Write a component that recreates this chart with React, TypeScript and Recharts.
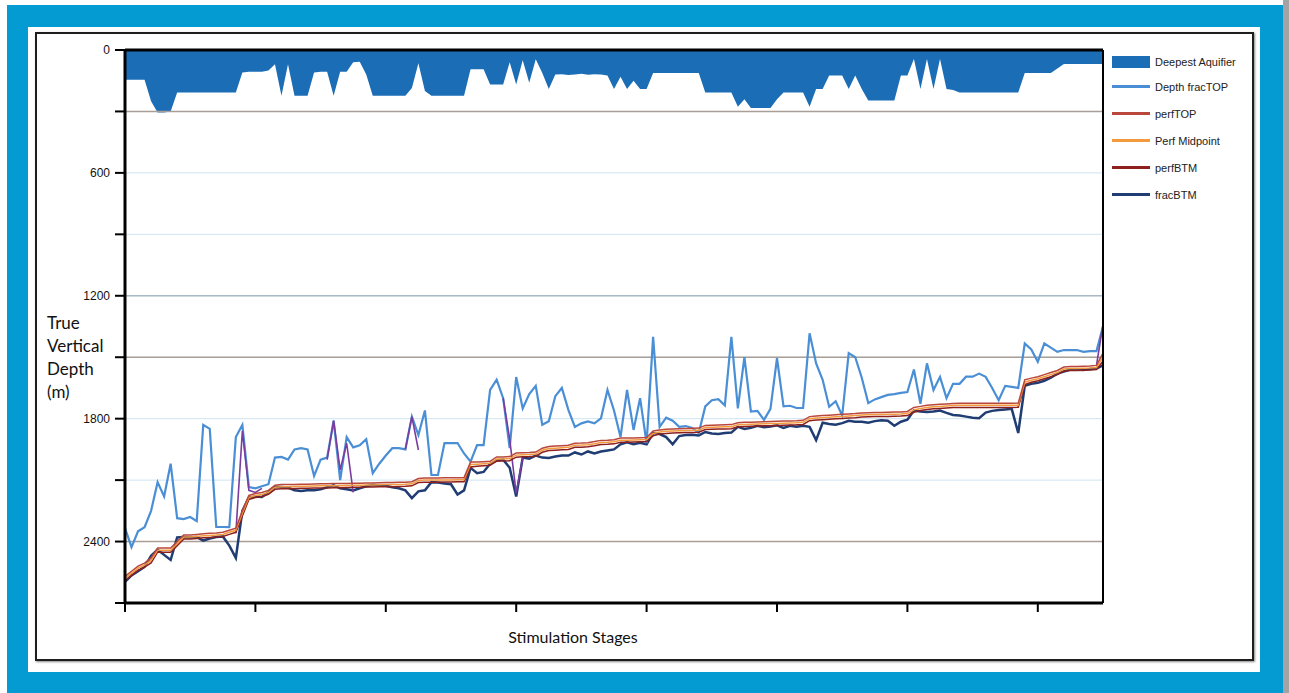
import React from "react";
import { ComposedChart, Area, Line, XAxis, YAxis, CartesianGrid, ReferenceLine } from "recharts";

// depth (m) of deepest aquifer, one value per stage sample
const aquifer = [
  145, 145, 145, 145, 250, 305, 305, 300, 207, 207,
  207, 207, 207, 207, 207, 207, 207, 207, 110, 106,
  106, 106, 100, 70, 223, 70, 223, 223, 223, 110,
  106, 106, 223, 106, 106, 60, 57, 120, 223, 223,
  223, 223, 223, 223, 186, 65, 200, 223, 223, 223,
  223, 223, 223, 94, 94, 94, 168, 168, 168, 60,
  168, 50, 160, 45, 112, 190, 120, 118, 122, 120,
  116, 121, 119, 120, 125, 190, 130, 190, 150, 190,
  190, 112, 112, 112, 112, 112, 112, 112, 112, 207,
  207, 207, 207, 207, 277, 240, 283, 283, 283, 283,
  240, 207, 207, 207, 207, 277, 190, 190, 125, 125,
  125, 190, 125, 190, 246, 246, 246, 246, 246, 125,
  125, 44, 190, 44, 190, 44, 190, 195, 207, 207,
  207, 207, 207, 207, 207, 207, 207, 207, 112, 112,
  112, 112, 112, 90, 68, 68, 68, 68, 68, 68,
  68,
];

const fracTop = [
  2334, 2427, 2350, 2330, 2250, 2110, 2180, 2020, 2286, 2290,
  2280, 2300, 1830, 1850, 2329, 2329, 2330, 1890, 1831, 2134,
  2140, 2130, 2120, 1990, 1987, 2000, 1950, 1944, 1950, 2080,
  2000, 1990, 1810, 2100, 1890, 1940, 1930, 1900, 2066, 2020,
  1980, 1944, 1944, 1950, 1790, 1880, 1760, 2075, 2075, 1919,
  1919, 1919, 1970, 2010, 1929, 1929, 1660, 1610, 1700, 1944,
  1597, 1750, 1680, 1640, 1830, 1813, 1690, 1650, 1757, 1840,
  1823, 1813, 1823, 1798, 1660, 1760, 1890, 1660, 1855, 1700,
  1920, 1400, 1840, 1795, 1810, 1840, 1836, 1845, 1870, 1740,
  1710, 1705, 1735, 1400, 1750, 1500, 1765, 1762, 1806, 1752,
  1505, 1740, 1737, 1748, 1748, 1383, 1530, 1610, 1742, 1715,
  1785, 1480, 1500, 1600, 1724, 1706, 1695, 1684, 1680, 1674,
  1670, 1560, 1727, 1530, 1660, 1596, 1700, 1630, 1630, 1595,
  1595, 1580, 1596, 1650, 1710, 1640, 1645, 1650, 1433, 1462,
  1522, 1433, 1453, 1474, 1465, 1465, 1465, 1474, 1470, 1470,
  1350,
];

const perfTop = [
  2570, 2545, 2520, 2505, 2480, 2432, 2432, 2432, 2400, 2368,
  2368, 2365, 2362, 2360, 2358, 2355, 2345, 2335, 2250, 2175,
  2165, 2160, 2150, 2125, 2122, 2122, 2121, 2120, 2120, 2119,
  2118, 2118, 2117, 2117, 2116, 2115, 2115, 2114, 2114, 2113,
  2112, 2112, 2111, 2110, 2108, 2092, 2090, 2090, 2090, 2089,
  2089, 2088, 2088, 2012, 2012, 2010, 2008, 1987, 1987, 1985,
  1968, 1966, 1965, 1963, 1944, 1936, 1934, 1932, 1930, 1920,
  1919, 1917, 1912, 1906, 1905, 1903, 1895, 1895, 1894, 1893,
  1892, 1860, 1855, 1852, 1850, 1849, 1848, 1847, 1846, 1833,
  1832, 1831, 1830, 1829, 1820, 1818, 1817, 1816, 1815, 1814,
  1813, 1812, 1811, 1810, 1808, 1790, 1787, 1785, 1783, 1781,
  1779, 1777, 1775, 1772, 1771, 1770, 1770, 1769, 1768, 1767,
  1765, 1745, 1740, 1735, 1732, 1730, 1728, 1726, 1725, 1725,
  1725, 1725, 1725, 1725, 1725, 1725, 1725, 1724, 1610, 1602,
  1595, 1585, 1575, 1565, 1548, 1545, 1545, 1544, 1543, 1540,
  1480,
];

const perfMid = [
  2580, 2555, 2530, 2515, 2492, 2442, 2442, 2442, 2410, 2378,
  2378, 2375, 2372, 2370, 2368, 2365, 2355, 2345, 2262, 2185,
  2175, 2170, 2160, 2135, 2132, 2132, 2131, 2130, 2130, 2129,
  2128, 2128, 2127, 2127, 2126, 2125, 2125, 2124, 2124, 2123,
  2122, 2122, 2121, 2120, 2118, 2102, 2100, 2100, 2100, 2099,
  2099, 2098, 2098, 2024, 2022, 2020, 2018, 1997, 1997, 1995,
  1978, 1976, 1975, 1973, 1954, 1946, 1944, 1942, 1940, 1930,
  1929, 1927, 1922, 1916, 1915, 1913, 1905, 1905, 1904, 1903,
  1902, 1872, 1865, 1862, 1860, 1859, 1858, 1857, 1856, 1843,
  1842, 1841, 1840, 1839, 1830, 1828, 1827, 1826, 1825, 1824,
  1823, 1822, 1821, 1820, 1818, 1800, 1797, 1795, 1793, 1791,
  1789, 1787, 1785, 1782, 1781, 1780, 1780, 1779, 1778, 1777,
  1775, 1757, 1750, 1745, 1742, 1740, 1738, 1736, 1735, 1735,
  1735, 1735, 1735, 1735, 1735, 1735, 1735, 1734, 1622, 1612,
  1605, 1595, 1585, 1575, 1558, 1555, 1555, 1554, 1553, 1550,
  1500,
];

const perfBtm = [
  2590, 2565, 2540, 2525, 2504, 2452, 2452, 2452, 2420, 2388,
  2388, 2385, 2382, 2380, 2378, 2375, 2365, 2355, 2275, 2195,
  2185, 2180, 2170, 2145, 2142, 2142, 2141, 2140, 2140, 2139,
  2138, 2138, 2137, 2137, 2136, 2135, 2135, 2134, 2134, 2133,
  2132, 2132, 2131, 2130, 2128, 2112, 2110, 2110, 2110, 2109,
  2109, 2108, 2108, 2036, 2032, 2030, 2028, 2007, 2007, 2005,
  1988, 1986, 1985, 1983, 1964, 1956, 1954, 1952, 1950, 1940,
  1939, 1937, 1932, 1926, 1925, 1923, 1915, 1915, 1914, 1913,
  1912, 1884, 1875, 1872, 1870, 1869, 1868, 1867, 1866, 1853,
  1852, 1851, 1850, 1849, 1840, 1838, 1837, 1836, 1835, 1834,
  1833, 1832, 1831, 1830, 1828, 1810, 1807, 1805, 1803, 1801,
  1799, 1797, 1795, 1792, 1791, 1790, 1790, 1789, 1788, 1787,
  1785, 1769, 1760, 1755, 1752, 1750, 1748, 1746, 1745, 1745,
  1745, 1745, 1745, 1745, 1745, 1745, 1745, 1744, 1634, 1622,
  1615, 1605, 1595, 1585, 1568, 1565, 1565, 1564, 1563, 1560,
  1520,
];

const fracBtm = [
  2597, 2565, 2545, 2524, 2470, 2440, 2465, 2490, 2380, 2378,
  2380, 2378, 2395, 2385, 2378, 2375, 2420, 2480, 2250, 2185,
  2180, 2182, 2160, 2134, 2134, 2136, 2150, 2153, 2150, 2150,
  2145, 2135, 2125, 2140, 2145, 2150, 2140, 2130, 2124, 2126,
  2128, 2135, 2140, 2150, 2188, 2155, 2150, 2110, 2112, 2116,
  2120, 2170, 2150, 2040, 2066, 2060, 2020, 2005, 2000, 2040,
  2180, 1990, 1995, 1980, 1990, 1992, 1985, 1980, 1980, 1965,
  1975, 1960, 1970, 1960, 1955, 1950, 1925, 1915, 1925, 1918,
  1925, 1870, 1875, 1890, 1925, 1885, 1880, 1878, 1882, 1865,
  1872, 1875, 1870, 1868, 1840, 1850, 1845, 1835, 1842, 1838,
  1832, 1845, 1835, 1840, 1835, 1840, 1905, 1820, 1826, 1830,
  1822, 1810, 1815, 1815, 1820, 1812, 1808, 1810, 1835, 1815,
  1805, 1760, 1765, 1768, 1765, 1760, 1772, 1782, 1785, 1790,
  1795, 1798, 1770, 1762, 1758, 1755, 1752, 1870, 1640, 1630,
  1625, 1615, 1600, 1580, 1570, 1560, 1560, 1562, 1558, 1555,
  1540,
];

// short purple runs (no legend entry), keyed by stage
const altStages = [85, 90, 95, 100, 105, 155, 160, 165, 170, 175, 215, 220, 225, 290, 295, 300, 305, 745, 750];
const altDepth = [2360, 1860, 2150, 2160, 2140, 2000, 1810, 2050, 1920, 2160, 1950, 1790, 1953, 1700, 1900, 2164, 1990, 1540, 1340];

const yTicks = [0, 300, 600, 900, 1200, 1500, 1800, 2100, 2400, 2700];
const xTicks = [0, 100, 200, 300, 400, 500, 600, 700];

const legendItems = [
  { name: "Deepest Aquifier", color: "#1b6db6", box: true },
  { name: "Depth fracTOP", color: "#4a8fd5" },
  { name: "perfTOP", color: "#b9473c" },
  { name: "Perf Midpoint", color: "#f39a3c" },
  { name: "perfBTM", color: "#8e1f1f" },
  { name: "fracBTM", color: "#1f3c73" },
];

const data = aquifer.map((a, i) => {
  const stage = i * 5;
  const k = altStages.indexOf(stage);
  return {
    stage,
    aquifer: a,
    fracTop: fracTop[i],
    perfTop: perfTop[i],
    perfMid: perfMid[i],
    perfBtm: perfBtm[i],
    fracBtm: fracBtm[i],
    alt: k >= 0 ? altDepth[k] : null,
  };
});

export default function App() {
  return (
    <div style={{ position: "relative", width: 1289, height: 693, overflow: "hidden", background: "#fff" }}>
      <style>{"body{margin:0}"}</style>
      <div style={{ position: "absolute", left: 7, top: 5, width: 1276, height: 700, background: "#049bd3" }} />
      <div style={{ position: "absolute", left: 1283, top: 0, width: 6, height: 693, background: "#a3a3a3" }} />
      <div style={{ position: "absolute", left: 28, top: 27, width: 1232, height: 645, background: "#fff" }} />
      <div style={{ position: "absolute", left: 35, top: 32, width: 1219, height: 629, border: "2px solid #1e1e1e", boxSizing: "border-box", boxShadow: "1px 1px 2px #888" }} />

      <div style={{ position: "absolute", left: 0, top: 0 }}>
        <ComposedChart width={1289} height={693} data={data} margin={{ top: 50, right: 186, bottom: 60, left: 0 }}>
          <CartesianGrid vertical={false} stroke="#cfe4ef" />
          <ReferenceLine y={300} stroke="#aa9f98" strokeWidth={1.5} />
          <ReferenceLine y={1200} stroke="#a9bac6" strokeWidth={1.5} />
          <ReferenceLine y={1500} stroke="#aa9f98" strokeWidth={1.5} />
          <ReferenceLine y={2400} stroke="#aa9f98" strokeWidth={1.5} />
          <XAxis
            dataKey="stage"
            type="number"
            domain={[0, 750]}
            ticks={xTicks}
            height={30}
            tickSize={9}
            tickFormatter={() => ""}
            axisLine={{ stroke: "#000", strokeWidth: 3 }}
            tickLine={{ stroke: "#000", strokeWidth: 2 }}
          />
          <YAxis
            reversed
            type="number"
            domain={[0, 2700]}
            ticks={yTicks}
            width={125}
            tickSize={10}
            tickMargin={5}
            interval={0}
            tickFormatter={(v: number) => (v % 600 === 0 ? String(v) : "")}
            tick={{ fill: "#111", fontSize: 12, fontFamily: "Liberation Sans, Arial, sans-serif" }}
            axisLine={{ stroke: "#000", strokeWidth: 3 }}
            tickLine={{ stroke: "#000", strokeWidth: 2 }}
          />
          <Area
            dataKey="aquifer"
            type="linear"
            baseValue={0}
            stroke="none"
            fill="#1b6db6"
            fillOpacity={1}
            isAnimationActive={false}
          />
          <Line dataKey="fracBtm" type="linear" stroke="#1f3c73" strokeWidth={2.5} dot={false} isAnimationActive={false} />
          <Line dataKey="fracTop" type="linear" stroke="#4a8fd5" strokeWidth={2.2} dot={false} isAnimationActive={false} />
          <Line dataKey="alt" type="linear" stroke="#7a3c9e" strokeWidth={1.6} dot={false} connectNulls={false} isAnimationActive={false} />
          <Line dataKey="perfBtm" type="linear" stroke="#8e1f1f" strokeWidth={1.5} dot={false} isAnimationActive={false} />
          <Line dataKey="perfMid" type="linear" stroke="#f39a3c" strokeWidth={1.5} dot={false} isAnimationActive={false} />
          <Line dataKey="perfTop" type="linear" stroke="#b9473c" strokeWidth={1.5} dot={false} isAnimationActive={false} />
          <ReferenceLine y={0} stroke="#000" strokeWidth={3} />
          <ReferenceLine x={750} stroke="#000" strokeWidth={2} />
        </ComposedChart>
      </div>

      <div
        style={{
          position: "absolute",
          left: 47,
          top: 311,
          fontFamily: "Lato, sans-serif",
          fontSize: 17,
          lineHeight: "23px",
          color: "#111",
        }}
      >
        True<br />Vertical<br />Depth<br />(m)
      </div>
      <div
        style={{
          position: "absolute",
          left: 573,
          top: 627,
          transform: "translateX(-50%)",
          fontFamily: "Lato, sans-serif",
          fontSize: 16,
          color: "#111",
          whiteSpace: "nowrap",
        }}
      >
        Stimulation Stages
      </div>

      <div style={{ position: "absolute", left: 1112, top: 51, fontFamily: "Liberation Sans, Arial, sans-serif", fontSize: 11, color: "#222" }}>
        {legendItems.map((it, i) => (
          <div key={it.name} style={{ display: "flex", alignItems: "center", height: i === 0 ? 22 : 27 }}>
            <div
              style={{
                width: 38,
                height: it.box ? 12 : 3,
                background: it.color,
                marginRight: 5,
              }}
            />
            <span>{it.name}</span>
          </div>
        ))}
      </div>
    </div>
  );
}
